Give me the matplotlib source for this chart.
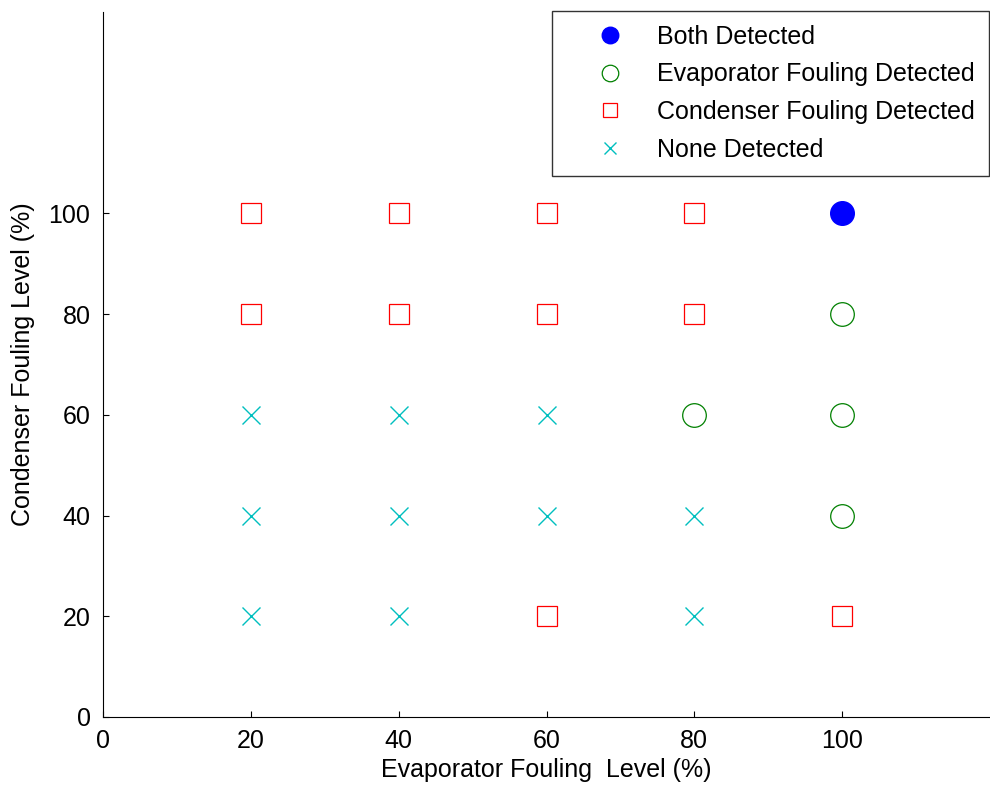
import matplotlib
matplotlib.use('Agg')
import matplotlib.pyplot as plt

plt.rcParams['font.family'] = ['Liberation Sans', 'DejaVu Sans']

# detection results on the evaporator / condenser fouling grid
both_x = [100]
both_y = [100]
evap_x = [100, 80, 100, 100]
evap_y = [80, 60, 60, 40]
cond_x = [20, 40, 60, 80, 20, 40, 60, 80, 60, 100]
cond_y = [100, 100, 100, 100, 80, 80, 80, 80, 20, 20]
none_x = [20, 40, 60, 20, 40, 60, 80, 20, 40, 80]
none_y = [60, 60, 60, 40, 40, 40, 40, 20, 20, 20]
ticks = [0, 20, 40, 60, 80, 100]

fig = plt.figure(figsize=(9.9, 7.89), dpi=100)
ax = fig.add_axes([103 / 990, 72 / 789, 887 / 990, 705 / 789])

ax.plot(both_x, both_y, 'o', color='blue', markersize=17, label='Both Detected')
ax.plot(evap_x, evap_y, 'o', color='green', markerfacecolor='none', markersize=17,
        markeredgewidth=0.9, label='Evaporator Fouling Detected')
ax.plot(cond_x, cond_y, 's', color='red', markerfacecolor='none', markersize=14.5,
        markeredgewidth=0.9, label='Condenser Fouling Detected')
ax.plot(none_x, none_y, 'x', color='#00bfbf', markersize=13, markeredgewidth=1.0,
        label='None Detected')

ax.set_xlim(0, 120)
ax.set_ylim(0, 140)
ax.set_xticks(ticks)
ax.set_yticks(ticks)
ax.tick_params(direction='in', length=4, labelsize=18, pad=9)
ax.spines['top'].set_visible(False)
ax.spines['right'].set_visible(False)
ax.set_xlabel('Evaporator Fouling  Level (%)', fontsize=18, labelpad=3)
ax.set_ylabel('Condenser Fouling Level (%)', fontsize=18, labelpad=10)

leg = ax.legend(loc='upper left', bbox_to_anchor=(449 / 887, 1.0015), fontsize=18,
                markerscale=0.7, frameon=True, fancybox=False, borderpad=0.55,
                labelspacing=0.55, handlelength=3.5, handletextpad=0.15,
                borderaxespad=0)
leg.get_frame().set_edgecolor('black')
leg.get_frame().set_linewidth(1.0)

fig.savefig('out.png', dpi=100)
